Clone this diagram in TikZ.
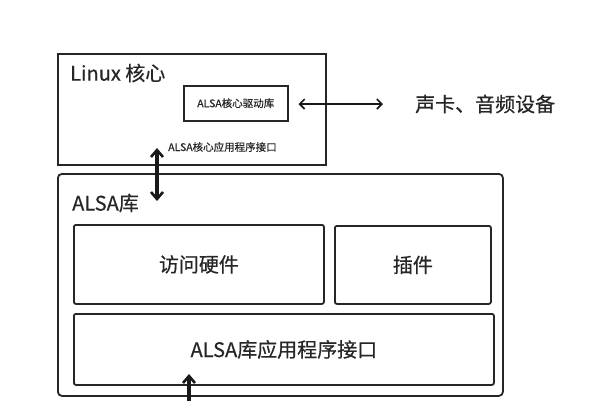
\documentclass[tikz,border=0pt]{standalone}
\usepackage{fontspec}
\setmainfont{Noto Sans CJK SC}[FakeBold=0.5]
\usetikzlibrary{arrows.meta}

\begin{document}
\begin{tikzpicture}[
    x=1pt, y=-1pt,
    box/.style={draw=black!85, line width=1.8pt, inner sep=0pt, anchor=north west},
    rbox/.style={box, rounded corners=4pt},
    title/.style={anchor=west, inner sep=0pt, text=black!85, font=\fontsize{20}{24}\selectfont},
    small/.style={inner sep=0pt, text=black!85, font=\fontsize{10.5}{13}\selectfont},
    tip/.tip={Straight Barb[length=5pt,width=10pt,line width=1.6pt]},
    bigtip/.tip={Straight Barb[length=7pt,width=12pt,line width=2.6pt]},
    biarrow/.style={tip-tip, line width=1.5pt, black!90},
    uparrow/.style={-bigtip, line width=3.2pt, black!90}
]
    \useasboundingbox[fill=white] (0,0) rectangle (590,400);

    % Linux kernel part
    \node[box, minimum width=268pt, minimum height=111pt] (kernel) at (57,53) {};
    \node[title] (kerneltitle) at (70,73) {Linux 核心};
    \node[box, line width=1.5pt, minimum width=104pt, minimum height=35pt] (driver) at (183,85) {};
    \node[small] (drivertext) at (driver.center) {ALSA核心驱动库};
    \node[small, anchor=west] (kernelapi) at (168,147) {ALSA核心应用程序接口};

    % sound card
    \node[title] (card) at (415,104) {声卡、音频设备};
    \draw[biarrow] ([xshift=10pt]driver.east |- card.west) -- ([xshift=-32pt]card.west);

    % ALSA library part
    \node[rbox, minimum width=445pt, minimum height=222pt] (alsa) at (57,173) {};
    \node[title] (alsatitle) at (72,203) {ALSA库};
    \node[box, rounded corners=2pt, minimum width=250pt, minimum height=79pt] (hw) at (73,224) {};
    \node[title, anchor=center] (hwtext) at (hw.center) {访问硬件};
    \node[box, rounded corners=2pt, minimum width=156pt, minimum height=78pt] (plugin) at (334,225) {};
    \node[title, anchor=center] (plugintext) at (plugin.center) {插件};
    \node[box, rounded corners=2pt, minimum width=420pt, minimum height=71pt] (libapi) at (73,313) {};
    \node[title, anchor=center] (libapitext) at (libapi.center) {ALSA库应用程序接口};

    % connections
    \coordinate (kernelend) at (157,148);
    \coordinate (alsaend) at (157,201);
    \draw[uparrow, bigtip-bigtip] (kernelend) -- (alsaend);
    \coordinate (appin) at (189,401);
    \coordinate (libapiend) at (189,374);
    \draw[uparrow] (appin) -- (libapiend);
\end{tikzpicture}
\end{document}
